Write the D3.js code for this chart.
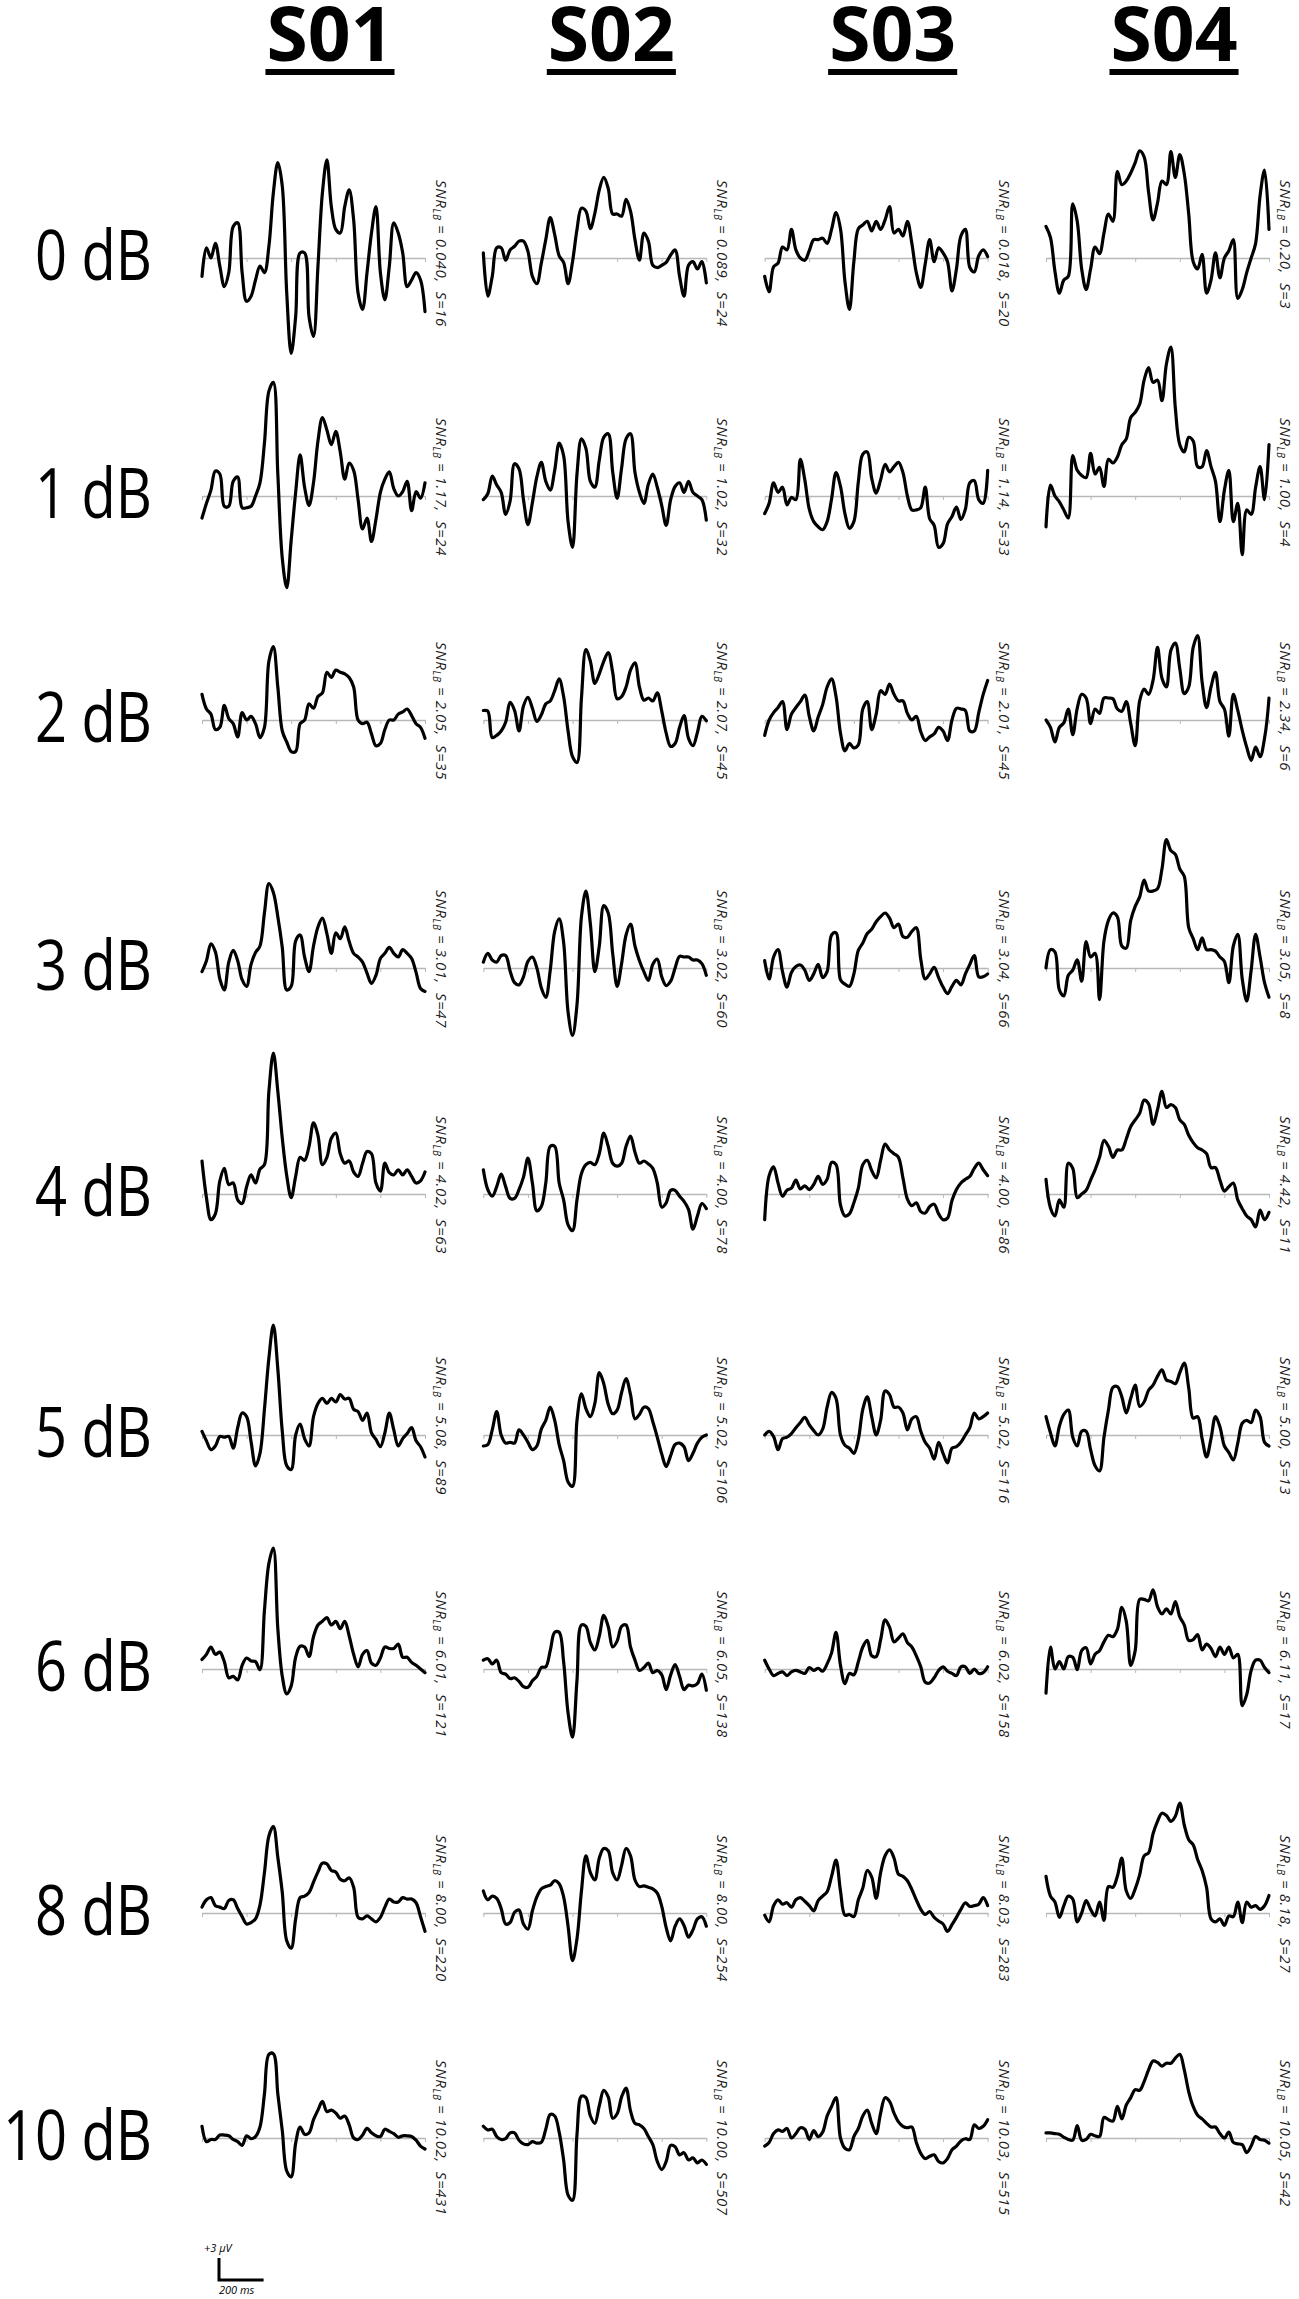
<!DOCTYPE html>
<html>
<head>
<meta charset="utf-8">
<script src="https://cdn.jsdelivr.net/npm/d3@7"></script>
<style>
  body { margin: 0; background: #fff; }
  text { font-family: "Open Sans", "Noto Sans", sans-serif; }
</style>
</head>
<body>
<div id="chart"></div>
<script>
// subjects (columns) and SNR levels (rows)
var subjects = ["S01", "S02", "S03", "S04"];
var levels = ["0 dB", "1 dB", "2 dB", "3 dB", "4 dB", "5 dB", "6 dB", "8 dB", "10 dB"];

// SNR_LB and number of sweeps S, one row per level, one entry per subject
var snrLB = [
  ["0.040", "0.089", "0.018", "0.20"],
  ["1.17", "1.02", "1.14", "1.00"],
  ["2.05", "2.07", "2.01", "2.34"],
  ["3.01", "3.02", "3.04", "3.05"],
  ["4.02", "4.00", "4.00", "4.42"],
  ["5.08", "5.02", "5.02", "5.00"],
  ["6.01", "6.05", "6.02", "6.11"],
  ["8.00", "8.00", "8.03", "8.18"],
  ["10.02", "10.00", "10.03", "10.05"]
];
var sweeps = [
  [16, 24, 20, 3],
  [24, 32, 33, 4],
  [35, 45, 45, 6],
  [47, 60, 66, 8],
  [63, 78, 86, 11],
  [89, 106, 116, 13],
  [121, 138, 158, 17],
  [220, 254, 283, 27],
  [431, 507, 515, 42]
];

// sample times (ms), every 20 ms
var times = d3.range(-200, 801, 20);

// averaged responses in µV, one series per level
var waveS01 = [
  [-2.5,1.4,0,2,-1.1,-3.9,-2,4.3,4.8,-2,-5.9,-5.2,-3,-1.1,-2,1.6,8.9,13,9.8,-4.8,-13,-8,0.7,0.7,-8,-10.7,-1.1,8.9,13.4,7,3.9,3.4,7,9.3,5.2,-4.8,-7,-2,3.4,7,-2,-5.7,-1.1,4.8,3.4,0.7,-3.9,-3,-2,-3,-7.3],
  [-3,-1,0.8,3.4,3,-1.4,-1.4,2,2.6,-1.6,-1.6,-1.4,0,1.8,7.2,14.3,15.5,3,-8.5,-12.5,-6,0.5,5.6,1.2,-1.3,1.8,7.5,10.7,9,7,8.8,6,2.3,4.5,3.5,-0.5,-4.5,-3,-6.2,-3.2,0.5,2.3,3.3,1,0,0.6,2,-2,0.6,-0.3,1.8],
  [3.5,1.5,0.8,-1.3,-1,2,0.2,-0.5,-2.3,1,0,0.5,-0.5,-2.4,-1,8,10,4.5,-1.5,-3,-4.3,-4.3,-0.5,0,2.2,1.6,3.2,3.7,6.5,5.8,6.8,6.5,6.3,5.8,4.5,0,-0.5,-0.3,-1.9,-3.5,-3.2,-1.3,0,0,0.8,1.1,1.5,0.6,-0.5,-1,-2.5],
  [-0.5,1,3.3,2.2,-1.5,-3,0.8,2.4,1,-1.6,-2.5,0.5,2.1,3,7.5,11.5,10.3,7,2.8,-3,-2.5,3.7,4.5,1.5,-0.5,3,5.6,6.8,4.7,2,4.8,4,5.6,3.6,2,1.5,0.8,-0.7,-2.1,-1,1.3,2,2.8,2,1.5,2.5,2,1.3,-0.6,-2.8,-3.2],
  [4.5,-0.5,-3.5,-2.7,1.8,3.5,1.3,1.5,-0.8,-1.3,1,2.6,1.5,3.4,4,14,19.2,14,7.6,2.5,-0.5,2.4,5,4.6,6.5,9.7,8,4,5,7.6,8.3,5.5,4.2,4.5,3,2.4,4.2,5.8,5.5,1.5,0.4,4.2,2.9,2.6,3.3,2.6,3.3,2.4,1.5,1.8,3],
  [0.5,-0.8,-2,-1.5,-0.2,-0.3,-0.2,-1.8,1,3,2.5,-0.9,-4.2,-2.5,3.5,10.5,15,9,0.5,-4.2,-4.7,0,1.5,-0.5,-1.5,2.5,4.3,5,4.3,5,4.5,5.5,4.9,5,3.5,3.2,2,3,0.3,-0.6,-1.6,0.3,3,0.7,-1.5,-0.5,0.2,1,-0.8,-1.6,-3],
  [1.3,2,3,2,2.3,1,-1.2,-1,-1.5,0.5,1.5,1.1,1,-0.1,8,14.4,16.5,5.5,-1,-3.4,-2.3,1.6,3.1,3,1.7,4.4,6,6.5,7,6,6.5,5.5,6.5,4.5,2,0.3,2,2.5,0.8,0.5,1.5,3,2.8,2.8,3.4,1.6,1.6,0.9,0.5,0,-0.5],
  [0.8,1.8,2.1,1,0.8,0.6,1.7,1.8,0.6,-0.5,-1.5,-1.3,-0.8,1.1,5.5,10.5,11.8,7.6,2.8,-3.8,-4.8,-0.8,2.1,2.3,2.8,4.2,5.6,6.8,6.7,5.8,5.6,4.6,4.4,4.8,3.5,-0.6,-0.8,-0.4,-0.8,-1.2,-0.6,0.8,1.9,1.5,1.5,2.1,1.9,1.9,1.4,-0.5,-2.5],
  [1.6,-0.5,-0.2,-0.2,0.4,0.4,0.3,-0.2,-0.5,-1,0.3,-0.1,0.2,1.5,6,11.4,11.5,6,1,-4.5,-5.3,-0.7,1.5,0.5,0.7,2.5,3.8,5,3.6,3.8,3.4,2.7,3,1.8,0,-0.2,0.4,1.3,0.7,0.3,0.2,1.2,0.9,0.6,0.1,0.3,0.3,0.2,-0.3,-1.1,-1.5]
];
var waveS02 = [
  [0.7,-5.2,-2.5,1.4,1.4,-0.3,1.1,1.6,2.3,2.3,0.9,-2.5,-3.5,-0.7,2.5,5.5,3.2,0.3,-0.6,-3.5,-0.5,3.9,6.8,6.4,4,6.1,9.3,11,9.5,6,6,5.7,8,6.4,2.5,-0.3,3.4,2.3,-1,-1.3,-1,-0.6,0.4,1.1,-2.5,-5.2,-1,-0.5,-1.5,-0.5,-3.4],
  [-0.5,0.3,2.7,1.5,0.5,-2.5,-0.7,4.4,3.7,-0.5,-3.9,-0.9,2.6,4.6,2,0.8,3.5,7.2,5.5,-3.5,-7,3,7.8,6.5,2,1.2,4.9,8,8.5,3.3,-0.3,3.8,7.8,8.5,3.2,0.5,-1,1.6,3,1.2,-1.3,-4,-0.5,1.3,1.8,0.5,2,0.5,0,-0.5,-3.3],
  [1.3,1.2,-2.4,-2.1,-1.5,-0.3,2.4,1.3,-1.5,1.9,3.1,1.6,-0.2,0.7,2.2,2.6,4,5.6,3.2,-1.5,-5,-5.8,3,9.6,8,5,6.3,8,9.2,6.5,2.9,3.2,4.5,6.8,7.8,4.5,2.7,3,2.6,3.7,1.2,-1.8,-3.6,-3.2,-1,0.6,-2.5,-3.5,-1.7,0.5,-0.1],
  [0.8,2,1.1,0.8,1.7,1.7,-0.4,-2,-2.3,-1.2,0.9,1.5,0,-2.7,-4,-0.3,5,6.7,3.5,-6,-9.2,-5,7,10.5,6,-0.5,3,8.5,7.5,2,-2.5,0.6,4.5,6,3,1,-0.5,-1.7,0.5,1.2,-1.2,-2.4,-1.8,0,1.6,1.5,1.5,1.1,1.1,0.6,-1],
  [3.3,0.6,-0.3,1,2.7,1,-0.6,-0.6,0.6,2.3,4.9,1.5,-2.3,-1.7,1.5,6.5,6.5,1.5,-0.8,-4.2,-5,-0.8,2.8,4,4.3,4,5.5,8.3,6.5,4.2,3.8,4.2,6.5,7.9,5.7,4.2,4.5,4.1,3.5,1.5,-1.8,-1.2,0.5,0.5,-0.3,-1,-2.1,-4.8,-3,-1.3,-2],
  [-1.5,-1.3,0.7,3.2,0,-1.1,-1,-1.1,0.7,0,-1,-2,-1.5,0.8,2,3.8,2,-1.3,-3.5,-6.4,-7,2,5.6,3.6,2.5,4.3,8.5,7,4.2,2.9,3.4,5.8,7.7,5.5,2.2,2.8,3.8,3.6,1.8,-0.3,-2.6,-4.3,-2.8,-1.3,-1.1,-1.6,-3.5,-2.5,-1.1,-0.3,0],
  [1.2,1.4,0.7,1.2,-0.5,-0.7,-1.3,-1.2,-1.7,-2.4,-2.5,-1.6,-1,0.2,0.3,2.5,5,5,1,-6,-9.3,-1.5,6,5.8,3.6,2.6,4.5,7.3,5.8,3,3.8,5.8,6,3,1.2,-0.2,0.2,0.8,-0.5,-0.2,-0.8,-2.8,-0.8,0.6,-1,-2.8,-2.2,-2.3,-2,-0.7,-2.9],
  [3,1.8,2.3,2,0.6,-1.5,-1.3,0.1,0.4,-1.5,-2.2,0.3,2.2,3.3,3.6,3.8,4.4,4,2.2,-1.8,-6.5,-3.5,3,7.8,5.5,4.5,7.5,8.8,8.5,5.5,4.5,6.5,8.8,7.8,4.5,3.6,3.7,3.5,3.3,2.7,0.9,-2,-3.8,-1.8,-0.8,-1.7,-3.3,-2.3,-0.8,-0.5,-1.8],
  [1.6,1.1,1.2,0.2,-0.2,-0.1,0.7,0.7,-0.3,-0.8,-0.9,-0.5,-0.7,-0.6,1.2,3.2,3,0.8,-3,-7.8,-8.5,0.5,5.7,5.5,3,2,4.4,6.5,5.6,2.7,3.3,5.6,6.8,3.7,2,1.8,1.3,0.2,-0.9,-3.2,-4.3,-3.2,-1,-1.2,-2.3,-2,-3,-2.7,-3.4,-3,-3.6]
];
var waveS03 = [
  [-2.5,-4.6,-1.2,-0.7,1.5,1.1,3.9,1.1,0,-0.3,1,2.5,2.5,2.7,2,3.9,6.2,4,-3.2,-7,-0.5,4,4.5,5,3.7,5,3.9,5.2,7,3.4,3.9,3,5,2,-2,-4,-0.8,2.5,-0.5,1.4,0.7,-0.5,-4.5,-1.5,3,3.9,-1.3,-1.9,0.3,1.1,0.2],
  [-2.4,-1,1.8,0.5,1.2,-1.2,-0.2,-0.5,5,2.2,-1.8,-3.5,-4.2,-4.6,-3.5,-0.4,3.2,1.3,-2.4,-4.4,-3.5,1.9,5.7,6,2.4,0.4,2.2,4.3,3.3,4,4.6,3.2,0,-1.9,-1.9,-1.6,1.2,-3.1,-4,-7,-6.5,-3.8,-2.8,-1.5,-3.2,-1.8,1.8,2.1,-0.5,-1,3.5],
  [-2.1,0,1,1.7,2.5,-1.3,0.8,1.7,2.5,3.4,0.5,-1.5,0.4,2.1,4.5,5.6,3.2,-1.8,-4.2,-3.2,-3.8,-3.4,1.5,2.5,-1.3,0.8,4,3.5,4.9,3.5,2.6,2.6,0.9,0,0.5,-1.6,-2.8,-2.3,-1.9,-1,-1.5,-2.8,0,1.6,1.5,1.3,-1.5,-1.5,1,3.5,5.4],
  [1,-1.5,1.5,2.5,-0.5,-2.6,-0.6,0.2,0.4,-0.3,-1.7,-0.8,0.5,-1.3,-0.5,4.5,4.8,-1.6,-2.2,-2.5,-0.8,2.4,3.4,4.7,5.3,6.3,7,7.5,6.8,5.5,6,4.3,4.2,5,5.5,1.2,-1.5,-0.8,0.1,-1.3,-2.6,-3.5,-2.5,-1.7,-2.3,-0.8,0.5,1.7,-1.2,-1.2,-0.8],
  [-3.5,2.5,3.7,1.5,-0.3,0.5,0.8,1.9,0.7,1.1,0.6,1.3,2.4,1.3,2,4.3,4,-1.5,-3,-2.7,-1.2,0.8,4,4.6,3.2,2.2,4.6,6.8,6,5.5,5,2.2,-0.7,-1.6,-1.2,-2.4,-2.6,-1.7,-1.4,-2.7,-3.5,-3.3,-0.9,0.6,1.5,2,2.4,3.5,4.2,3.3,2.5],
  [0,0.5,-0.2,-2,-0.5,-0.3,0.2,1,1.7,2.4,1.4,0.6,0,0.8,3.8,5.8,5,0,-1.4,-1.8,-2.5,-0.6,3.5,5.2,2.5,0,2,6,5.5,3.8,3.8,3,0.7,2.2,2.5,0.5,-1,-1.8,-3.3,-1,-2.5,-3.8,-1.8,-1.6,-1,0,1,3,2.2,2.5,3],
  [1.2,0,-0.9,-0.6,-0.4,-0.9,-0.4,-0.2,-0.4,-0.6,0.2,-0.2,0.1,-0.3,0.7,2.2,5,0.5,-2,-0.6,-0.8,1,3,3.9,1.8,1.7,4,6.7,5.7,3.7,4.2,4.8,3.6,3,1.8,0.3,-1.8,-1.9,-1.2,-0.2,0.3,-0.3,-0.6,-0.9,0.3,0.3,-0.6,0,-0.6,-0.5,0.3],
  [-0.3,-1.2,1,1.8,1.2,1.4,0.8,1.8,2.1,1.6,1,0.3,1.7,2.3,2.9,5,7.2,3,-0.3,-0.2,-0.5,1.8,3.4,5.8,4.9,2,5.5,7.8,8.6,7.5,5.3,5,4.4,3.2,1.8,0.5,-0.2,0.2,-0.6,-1.1,-1.5,-2.5,-1.6,-0.6,0.5,1.4,0.9,1,1.2,2.1,1],
  [-1.1,-0.6,0.6,1.1,0.9,1.3,0,0.6,1.4,1.2,-0.2,1,0.2,0.8,3,4.3,5.5,0,-1.4,-1.6,0.2,1.3,3,3.8,2,0.6,3.4,5.5,5,3.4,2.2,1.6,1.4,1.5,-0.6,-2.1,-2.8,-2.5,-2.3,-3.2,-3.4,-2.8,-1.6,-1.1,-0.4,-0.1,-0.2,1.8,1.3,1.6,2.5]
];
var waveS04 = [
  [4.3,2.8,-1.8,-4.8,-3,-2.5,7.4,5,-1.5,-4.3,-1.5,1.5,0.6,3.4,6,5,11.8,10,10.5,11.6,13,14.6,13.8,9,5.2,7.5,10.5,10,14.5,11,14.1,11.5,6,-0.5,-1.5,0.5,-4.8,-3,0.7,-2.7,0,1,2.5,-5.5,-4.3,-2,0,2,8.5,12,3.9],
  [-4.2,1.5,0,-0.8,-1.9,-3,5.5,3.5,2.8,2.5,5.8,3,3.9,1.3,5,4.5,5.3,7,7.8,10.7,11.4,12.5,15.8,17.5,15.5,15.8,13,18,20.3,12,7,6,8,7.5,4,4,6.2,4,2,-3.5,0.8,3.5,-3.5,-1,-8,-1.9,-2.5,1.2,4,-0.5,7],
  [0,-1,-3,-1,-0.4,1.5,-2,1.6,3.5,3,-0.5,1.5,0.9,3,3,2.9,1.5,1.2,2.5,-0.5,-3.5,2.6,4.2,3.5,5.4,9.9,5.7,4.5,9.5,10.5,7,3.6,4.5,9.9,11.5,5.2,1.7,4.5,6.5,2.5,1.5,-2.2,3.5,1.3,-1.4,-3.7,-5.5,-3.7,-5,-2.5,3],
  [0,2.5,2.2,-3,-3.8,-1,-0.3,1.1,-1.8,3.6,1.5,2,-4.3,3.7,6.5,7.5,7,3,2.7,6.5,8.4,9.7,12,10.5,10.5,10.8,13.5,17.5,16,15.5,13.5,12.5,5.5,4,2.5,4.1,2.5,2.5,2.3,1.5,0.9,-2,3,4.6,-1.5,-4.5,-0.3,4.6,1.5,-2,-4],
  [2,-1.9,-3,-0.8,-1.8,4.2,3.5,-0.5,0,0.5,1.9,3.3,5,7.3,6.5,5,6,6,7.5,9.2,10.1,11,12.8,12.3,9.5,11.5,14,11.8,12.2,11.8,10.1,9.5,8,7,6.3,6,5.5,3.6,3.6,1.9,0.4,1,1.5,-0.8,-2,-3,-3.5,-4.5,-2.2,-3.5,-2.5],
  [2.5,0.3,-1.5,1.2,2.8,3.4,-0.3,-1.5,0.5,0.5,-2,-4.2,-4.9,-0.3,3.4,6.5,6.6,5.2,3,5,6.8,3.9,4.5,6.1,6.8,8,8.9,7.5,7.3,7,8.5,9.8,6.4,2.3,2.5,-0.5,-3,-0.5,2.5,1.1,-1.5,-2.4,-3.4,-1.1,1.6,2,1.7,3.4,2.5,-1,-1.5],
  [-3.3,3,0,1,0,1.7,1.6,-0.1,2.5,2.9,0.7,2,2.5,3.7,4.6,4.4,5.4,8.4,6.5,0.5,2.5,9.5,9.5,9.3,10.8,8.5,7.5,8.2,7.5,9.2,7.1,6,3.9,4,4.7,2.6,3.4,2.8,1.7,3,2,3,1.5,2,-5,-3.5,-0.2,1.2,1.2,0.2,-0.5],
  [5,2.3,1.5,-0.6,1,2.3,1.9,-1.2,0,1.7,0.5,-0.4,1.5,-1,3.6,3.5,5,7.5,3,2,3.3,5.2,7.8,8.2,10.8,12.5,13.6,13.3,12.5,13.2,15,12,10,9.3,7.3,5.8,3.5,-0.8,-1.2,-0.8,-1.7,-0.4,-0.5,1.5,-1.3,1.5,0.8,1,0.5,1,2.4],
  [0.7,0.7,0.6,0.5,0.1,-0.2,-0.3,1.7,-0.3,-0.2,0.5,0.3,0.2,2.8,2.5,2.3,4.3,2.6,4.5,5.5,6.6,6.5,7.7,9.3,10.5,10.3,9.8,10.2,10.2,10.9,11.4,9.3,6.3,4.3,3.1,2.6,2,1.5,1.5,0.6,0,0.8,-0.6,-0.8,-0.9,-2,-1.1,0.2,-0.2,-0.3,-0.7]
];
var waves = [waveS01, waveS02, waveS03, waveS04];

var width = 1299, height = 2299;
var svg = d3.select("#chart").append("svg")
    .attr("width", width).attr("height", height);

var panelW = 223;
var col = d3.scalePoint().domain(subjects).range([202, 1046]);
// row baselines are not evenly spaced in the figure
var row = d3.scaleOrdinal().domain(levels)
    .range([258, 496, 720, 968, 1194, 1435, 1669, 1913, 2138]);

var x = d3.scaleLinear().domain([-200, 800]).range([0, panelW]);
// 3 µV = 22 px
var y = d3.scaleLinear().domain([-3, 3]).range([22, -22]);

var line = d3.line()
    .x(function(d, i) { return x(times[i]); })
    .y(function(d) { return y(d); })
    .curve(d3.curveCatmullRom.alpha(0.5));

// column headers
subjects.forEach(function(s) {
  var h = svg.append("g").attr("transform", "translate(" + (col(s) + 128) + ",0)");
  var t = h.append("text")
      .attr("x", 0).attr("y", 61)
      .attr("text-anchor", "middle")
      .style("font-size", "75px")
      .style("font-weight", "bold")
      .text(s);
  var w = t.node().getComputedTextLength();
  h.append("rect")
      .attr("x", -w / 2 - 1).attr("y", 69)
      .attr("width", w + 2).attr("height", 6)
      .attr("fill", "#000");
});

// row labels
levels.forEach(function(l) {
  svg.append("text")
      .attr("transform", "translate(152," + (row(l) + 22) + ") scale(1,1.25)")
      .attr("text-anchor", "end")
      .style("font-size", "56px")
      .text(l);
});

// panels
levels.forEach(function(l, r) {
  subjects.forEach(function(s, c) {
    var g = svg.append("g")
        .attr("transform", "translate(" + col(s) + "," + row(l) + ")");

    var ax = g.append("g")
        .call(d3.axisBottom(x).tickValues(d3.range(-200, 801, 200)).tickSize(4).tickSizeOuter(0).tickFormat(""));
    ax.select(".domain").attr("stroke", "#b8b8b8").attr("stroke-width", 1.6);
    ax.selectAll(".tick line").attr("stroke", "#b8b8b8").attr("stroke-width", 1);

    g.append("path")
        .datum(waves[c][r])
        .attr("fill", "none")
        .attr("stroke", "#000")
        .attr("stroke-width", 3.2)
        .attr("stroke-linejoin", "round")
        .attr("stroke-linecap", "round")
        .attr("d", line);

    var t = g.append("text")
        .attr("transform", "translate(" + (panelW + 11) + ",-78) rotate(90)")
        .style("font-size", "15px")
        .style("font-style", "italic")
        .style("letter-spacing", "0.6px")
        .style("white-space", "pre")
        .attr("fill", "#1a1a1a");
    t.append("tspan").text("SNR");
    t.append("tspan").attr("dy", 3).style("font-size", "10px").text("LB");
    t.append("tspan").attr("dy", -3).text(" = " + snrLB[r][c] + ",  S=" + sweeps[r][c]);
  });
});

// scale bar: +3 µV and 200 ms
var sb = svg.append("g").attr("transform", "translate(" + (col("S01") + 17) + ",2280)");
sb.append("path")
    .attr("d", "M0," + (y(3) - y(0)) + "V0H" + (x(200) - x(0)))
    .attr("fill", "none")
    .attr("stroke", "#000")
    .attr("stroke-width", 3);
sb.append("text")
    .attr("x", -15).attr("y", -28)
    .style("font-size", "11px").style("font-style", "italic")
    .text("+3 \u03bcV");
sb.append("text")
    .attr("x", 0).attr("y", 14)
    .style("font-size", "11px").style("font-style", "italic")
    .text("200 ms");
</script>
</body>
</html>
